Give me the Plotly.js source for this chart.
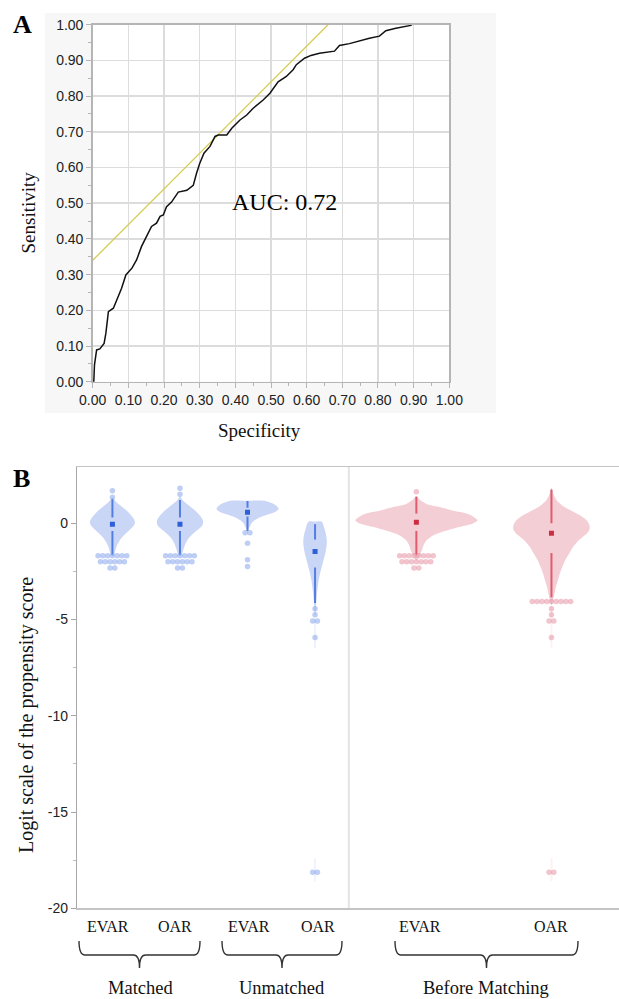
<!DOCTYPE html>
<html><head><meta charset="utf-8">
<script src="https://cdn.plot.ly/plotly-3.0.1.min.js"></script>
<style>html,body{margin:0;padding:0;background:#fff}#chart{width:619px;height:999px}</style>
</head><body><div id="chart"></div>
<script>
// ---------- Panel A : ROC curve ----------
const rocSpecificity = [0, 0.003, 0.005, 0.011, 0.02, 0.032, 0.037, 0.044, 0.058, 0.072, 0.081, 0.093, 0.11, 0.123, 0.137, 0.151, 0.165, 0.179, 0.189, 0.198, 0.207, 0.221, 0.24, 0.264, 0.282, 0.291, 0.30, 0.312, 0.329, 0.343, 0.352, 0.376, 0.39, 0.413, 0.432, 0.45, 0.478, 0.497, 0.52, 0.543, 0.562, 0.571, 0.594, 0.612, 0.636, 0.678, 0.692, 0.72, 0.748, 0.776, 0.804, 0.822, 0.85, 0.878, 0.892, 0.895];
const rocSensitivity = [0, 0.0, 0.047, 0.089, 0.092, 0.107, 0.136, 0.196, 0.206, 0.238, 0.262, 0.299, 0.318, 0.341, 0.379, 0.407, 0.435, 0.444, 0.463, 0.467, 0.49, 0.503, 0.531, 0.536, 0.55, 0.583, 0.611, 0.64, 0.659, 0.687, 0.691, 0.691, 0.71, 0.733, 0.747, 0.766, 0.789, 0.808, 0.84, 0.855, 0.874, 0.888, 0.906, 0.914, 0.92, 0.926, 0.942, 0.947, 0.955, 0.962, 0.968, 0.983, 0.99, 0.994, 0.998, 1.0];
const tangentX = [0, 0.66];
const tangentY = [0.34, 1.0];
const aucText = 'AUC: 0.72';

// ---------- Panel B : violins ----------
const armLabels = ['EVAR', 'OAR', 'EVAR', 'OAR', 'EVAR', 'OAR'];
const groupLabels = ['Matched', 'Unmatched', 'Before Matching'];
const meanValues = [-0.05, -0.05, 0.57, -1.47, 0.05, -0.52];
const whiskerUpper = [[1.26, 0.3], [1.2, 0.3], [1.15, 0.8], [-0.05, -0.85], [1.38, 0.5], [1.75, 0.0]];
const whiskerLower = [[-0.4, -1.64], [-0.4, -1.64], [0.35, -0.4], [-2.3, -4.15], [-0.4, -1.64], [-1.55, -3.85]];

const densityY_matchedEVAR = [1.35, 1.2, 1.0, 0.75, 0.45, 0.2, 0.05, -0.15, -0.4, -0.7, -1.0, -1.3, -1.6, -1.75];
const densityW_matchedEVAR = [0, .03, .089, .178, .267, .319, .334, .312, .238, .149, .089, .052, .03, 0];
const densityY_matchedOAR = [1.4, 1.2, 1.0, 0.75, 0.45, 0.2, 0.0, -0.2, -0.45, -0.75, -1.05, -1.35, -1.6, -1.75];
const densityW_matchedOAR = [0, .037, .104, .193, .282, .334, .342, .312, .223, .134, .082, .052, .03, 0];
const densityY_unmatchedEVAR = [1.17, 1.17, 1.05, 0.9, 0.75, 0.6, 0.45, 0.3, 0.15, 0.0, -0.2, -0.4];
const densityW_unmatchedEVAR = [0, .253, .357, .431, .461, .416, .297, .178, .104, .059, .03, 0];
const densityY_unmatchedOAR = [0.08, 0.08, -0.3, -0.7, -1.05, -1.5, -2.0, -2.5, -3.0, -3.5, -4.0, -4.5, -5.0];
const densityW_unmatchedOAR = [0, .097, .141, .168, .174, .156, .119, .082, .052, .033, .019, .01, 0];
const densityY_beforeEVAR = [1.42, 1.2, 1.0, 0.85, 0.65, 0.5, 0.3, 0.15, 0.0, -0.15, -0.35, -0.6, -0.85, -1.1, -1.4, -1.7, -1.95];
const densityW_beforeEVAR = [0, .059, .149, .327, .55, .743, .862, .906, .847, .698, .475, .267, .163, .111, .082, .045, 0];
const densityY_beforeOAR = [1.85, 1.5, 1.2, 0.95, 0.7, 0.45, 0.2, -0.05, -0.3, -0.55, -0.85, -1.2, -1.55, -1.9, -2.25, -2.6, -2.95, -3.3, -3.65, -4.0, -4.3];
const densityW_beforeOAR = [0, .03, .074, .149, .267, .401, .505, .557, .565, .52, .416, .327, .267, .208, .163, .126, .097, .067, .045, .022, 0];

const outliers_matchedEVAR = [1.69, 1.35, -1.69, -1.69, -1.69, -1.69, -1.69, -1.69, -1.69, -2.0, -2.0, -2.0, -2.0, -2.0, -2.0, -2.33, -2.33];
const outliers_matchedOAR = [1.81, 1.5, -1.69, -1.69, -1.69, -1.69, -1.69, -1.69, -1.69, -2.0, -2.0, -2.0, -2.0, -2.0, -2.0, -2.33, -2.33];
const outliers_unmatchedEVAR = [-0.49, -0.49, -1.04, -1.9, -2.25];
const outliers_unmatchedOAR = [-4.44, -4.75, -5.08, -5.08, -5.94, -18.13, -18.13];
const outliers_beforeEVAR = [1.64, -1.69, -1.69, -1.69, -1.69, -1.69, -1.69, -1.69, -1.69, -2.0, -2.0, -2.0, -2.0, -2.0, -2.0, -2.0, -2.33, -2.33];
const outliers_beforeOAR = [-4.06, -4.06, -4.06, -4.06, -4.06, -4.06, -4.06, -4.06, -4.06, -4.44, -4.75, -5.08, -5.08, -5.94, -18.13, -18.13];

// ---------- layout helpers ----------
const W = 619, H = 999;
const px = v => v / W, py = v => 1 - v / H;
const positions = [0, 1, 2, 3, 4.5, 6.5];
const densY = [densityY_matchedEVAR, densityY_matchedOAR, densityY_unmatchedEVAR, densityY_unmatchedOAR, densityY_beforeEVAR, densityY_beforeOAR];
const densW = [densityW_matchedEVAR, densityW_matchedOAR, densityW_unmatchedEVAR, densityW_unmatchedOAR, densityW_beforeEVAR, densityW_beforeOAR];
const outl = [outliers_matchedEVAR, outliers_matchedOAR, outliers_unmatchedEVAR, outliers_unmatchedOAR, outliers_beforeEVAR, outliers_beforeOAR];
const isRed = [false, false, false, false, true, true];
const pal = {
  blue: {fill: 'rgb(202,214,246)', pt: 'rgba(125,158,236,0.5)', line: 'rgb(82,126,226)', mean: 'rgb(45,95,215)', tail: 'rgba(150,175,240,0.15)'},
  red: {fill: 'rgb(244,206,213)', pt: 'rgba(228,138,158,0.5)', line: 'rgb(222,92,110)', mean: 'rgb(205,45,65)', tail: 'rgba(235,160,175,0.15)'}
};
const dodge = 0.071;

const traces = [];
// Panel A
traces.push({x: tangentX, y: tangentY, xaxis: 'x', yaxis: 'y', mode: 'lines', line: {color: 'rgb(214,204,82)', width: 1.3}, hoverinfo: 'skip', showlegend: false});
traces.push({x: rocSpecificity, y: rocSensitivity, xaxis: 'x', yaxis: 'y', mode: 'lines', line: {color: '#111', width: 1.5}, showlegend: false});

// Panel B
positions.forEach((p, i) => {
  const c = isRed[i] ? pal.red : pal.blue;
  const ys = densY[i], ws = densW[i];
  const vx = ys.map((y, k) => p + ws[k]).concat(ys.slice().reverse().map((y, k) => p - ws[ws.length - 1 - k]));
  const vy = ys.concat(ys.slice().reverse());
  traces.push({x: vx, y: vy, xaxis: 'x2', yaxis: 'y2', mode: 'lines', fill: 'toself', fillcolor: c.fill, line: {width: 0, shape: 'spline', smoothing: 0.8}, hoverinfo: 'skip', showlegend: false});
});
positions.forEach((p, i) => {
  const c = isRed[i] ? pal.red : pal.blue;
  const o = outl[i];
  const minO = Math.min(...o);
  if (minO < -10) {
    const last = densY[i][densY[i].length - 1];
    traces.push({x: [p, p, null, p, p], y: [last, -6.5, null, -17.4, -18.6], xaxis: 'x2', yaxis: 'y2', mode: 'lines', line: {color: c.tail, width: 2}, hoverinfo: 'skip', showlegend: false});
  }
  traces.push({x: [p, p, null, p, p], y: [whiskerUpper[i][0], whiskerUpper[i][1], null, whiskerLower[i][0], whiskerLower[i][1]], xaxis: 'x2', yaxis: 'y2', mode: 'lines', line: {color: c.line, width: 2}, hoverinfo: 'skip', showlegend: false});
  const counts = {};
  o.forEach(v => { counts[v] = (counts[v] || 0) + 1; });
  const seen = {};
  const ox = o.map(v => { const n = counts[v]; const k = (seen[v] = (seen[v] || 0) + 1) - 1; return p + (k - (n - 1) / 2) * dodge; });
  traces.push({x: ox, y: o, xaxis: 'x2', yaxis: 'y2', mode: 'markers', marker: {size: 5.5, color: c.pt, line: {width: 0}}, showlegend: false});
  traces.push({x: [p], y: [meanValues[i]], xaxis: 'x2', yaxis: 'y2', mode: 'markers', marker: {symbol: 'square', size: 5, color: c.mean}, showlegend: false});
});

function brace(x0, x1) {
  const yTop = 941, yMid = 955, yStem = 968, r = 6, xc = (x0 + x1) / 2;
  const P = (x, y) => px(x) + ',' + py(y);
  return 'M ' + P(x0, yTop) + ' Q ' + P(x0, yMid) + ' ' + P(x0 + r, yMid) + ' L ' + P(xc - r, yMid) + ' Q ' + P(xc, yMid) + ' ' + P(xc, yStem) +
         ' M ' + P(xc, yStem) + ' Q ' + P(xc, yMid) + ' ' + P(xc + r, yMid) + ' L ' + P(x1 - r, yMid) + ' Q ' + P(x1, yMid) + ' ' + P(x1, yTop);
}

const serif = 'Liberation Serif, Times New Roman, serif';
const sans = 'Liberation Sans, Arial, Helvetica, sans-serif';

const shapes = [
  {type: 'rect', xref: 'paper', yref: 'paper', x0: px(45), x1: px(496), y0: py(413), y1: py(13), fillcolor: '#f7f7f7', line: {width: 0}, layer: 'below'},
  {type: 'rect', xref: 'paper', yref: 'paper', x0: px(92.7), x1: px(449.3), y0: py(381.7), y1: py(24.7), fillcolor: '#ffffff', line: {width: 0}, layer: 'below'},
  {type: 'line', xref: 'x2', yref: 'paper', x0: 3.5, x1: 3.5, y0: py(908.3), y1: py(467), line: {color: '#e4e4e4', width: 2}, layer: 'below'},
  {type: 'path', xref: 'paper', yref: 'paper', path: brace(79, 200), line: {color: '#333', width: 1.4}},
  {type: 'path', xref: 'paper', yref: 'paper', path: brace(222, 342), line: {color: '#333', width: 1.4}},
  {type: 'path', xref: 'paper', yref: 'paper', path: brace(395, 578), line: {color: '#333', width: 1.4}}
];

const C = {xanchor: 'center', yanchor: 'middle', showarrow: false};
const armShift = [-4, -5, 1, 3, 4, 0];
const annotations = [
  Object.assign({text: '<b>A</b>', x: px(22), y: py(25), xref: 'paper', yref: 'paper', font: {family: serif, size: 26, color: '#000'}}, C),
  Object.assign({text: '<b>B</b>', x: px(21), y: py(478), xref: 'paper', yref: 'paper', font: {family: serif, size: 26, color: '#000'}}, C),
  Object.assign({text: 'Sensitivity', x: px(28.5), y: py(213), xref: 'paper', yref: 'paper', textangle: -90, font: {family: serif, size: 19, color: '#111'}}, C),
  Object.assign({text: 'Specificity', x: px(259), y: py(430), xref: 'paper', yref: 'paper', font: {family: serif, size: 19, color: '#111'}}, C),
  Object.assign({text: aucText, x: 0.539, y: 0.503, xref: 'x', yref: 'y', font: {family: serif, size: 24, color: '#000'}}, C),
  Object.assign({text: 'Logit scale of the propensity score', x: px(26), y: py(715), xref: 'paper', yref: 'paper', textangle: -90, font: {family: serif, size: 20, color: '#111'}}, C)
];
positions.forEach((p, i) => annotations.push(Object.assign({text: armLabels[i], x: p, xshift: armShift[i], y: py(926), xref: 'x2', yref: 'paper', font: {family: serif, size: 16, color: '#111'}}, C)));
[140, 282, 486].forEach((c, i) => annotations.push(Object.assign({text: groupLabels[i], x: px(c), y: py(988), xref: 'paper', yref: 'paper', font: {family: serif, size: 18.5, color: '#111'}}, C)));

const layout = {
  width: W, height: H, margin: {l: 0, r: 0, t: 0, b: 0}, paper_bgcolor: '#fff', plot_bgcolor: 'rgba(0,0,0,0)', showlegend: false,
  xaxis: {domain: [px(92.7), px(449.3)], range: [0, 1], dtick: 0.1, tick0: 0, tickformat: '.2f', showgrid: true, gridcolor: '#dcdcdc', gridwidth: 1.5, zeroline: false,
          showline: true, mirror: true, linecolor: '#b5b5b5', linewidth: 1.5, ticks: 'outside', ticklen: 5, tickcolor: '#b5b5b5',
          minor: {dtick: 0.05, ticks: 'outside', ticklen: 3, tickcolor: '#b5b5b5', showgrid: false},
          tickfont: {family: sans, size: 14, color: '#222'}, anchor: 'y', fixedrange: true},
  yaxis: {domain: [py(381.7), py(24.7)], range: [0, 1], dtick: 0.1, tick0: 0, tickformat: '.2f', showgrid: true, gridcolor: '#dcdcdc', gridwidth: 1.5, zeroline: false,
          showline: true, mirror: true, linecolor: '#b5b5b5', linewidth: 1.5, ticks: 'outside', ticklen: 5, tickcolor: '#b5b5b5',
          minor: {dtick: 0.05, ticks: 'outside', ticklen: 3, tickcolor: '#b5b5b5', showgrid: false},
          tickfont: {family: sans, size: 14, color: '#222'}, anchor: 'x', fixedrange: true},
  xaxis2: {domain: [px(77.3), 1], range: [-0.52, 7.5], showticklabels: false, showgrid: false, zeroline: false, showline: true, mirror: true,
           linecolor: '#c4c4c4', linewidth: 1.5, ticks: '', anchor: 'y2', fixedrange: true},
  yaxis2: {domain: [py(908.3), py(467)], range: [-20, 2.92], tickvals: [0, -5, -10, -15, -20], ticktext: ['0', '-5', '-10', '-15', '-20'], showgrid: false, zeroline: false,
           showline: true, linecolor: '#a8a8a8', linewidth: 1.5, ticks: 'outside', ticklen: 5, tickcolor: '#a8a8a8',
           minor: {tickvals: [-2.5, -7.5, -12.5, -17.5], ticks: 'outside', ticklen: 3, tickcolor: '#c0c0c0', showgrid: false},
           tickfont: {family: sans, size: 14, color: '#222'}, anchor: 'x2', fixedrange: true},
  shapes: shapes, annotations: annotations
};
Plotly.newPlot('chart', traces, layout, {displayModeBar: false, staticPlot: true});
</script></body></html>
